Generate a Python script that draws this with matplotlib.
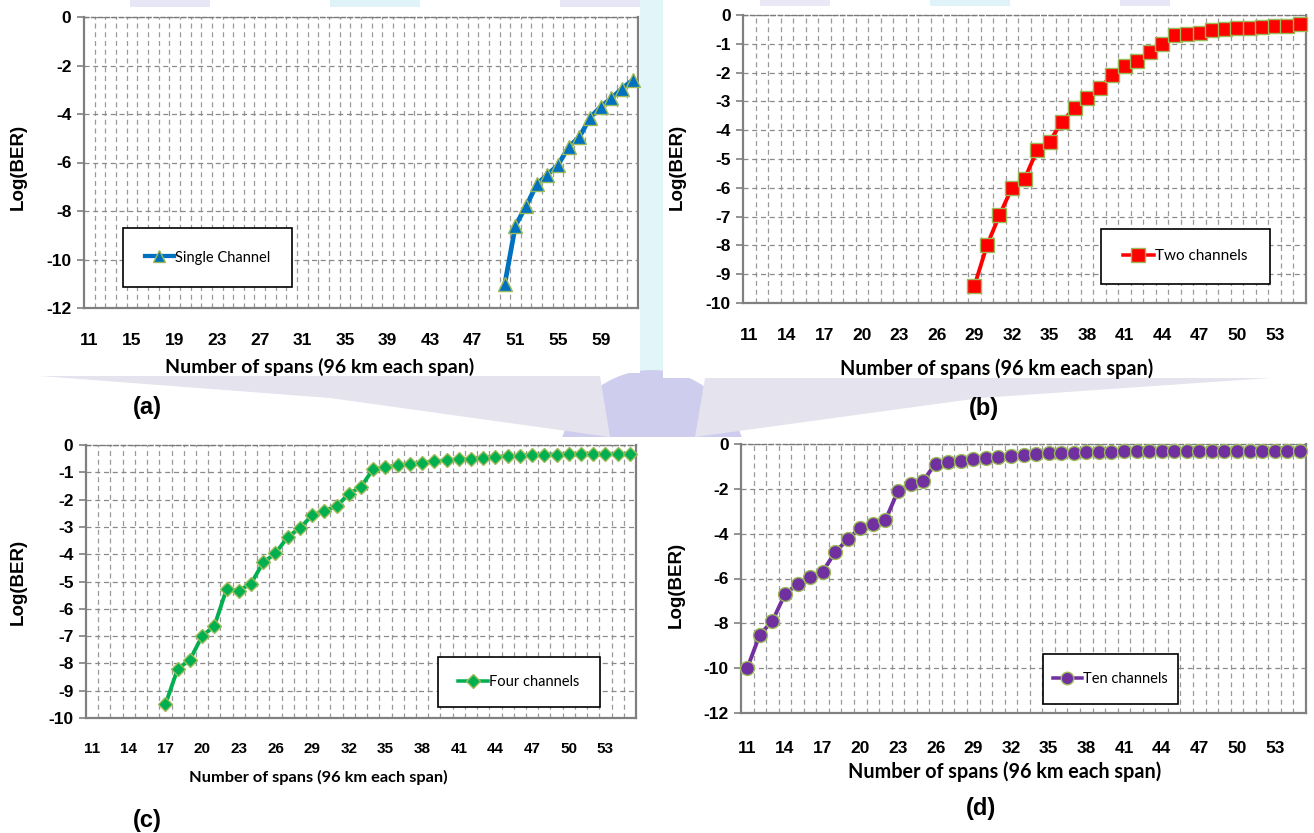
import numpy as np
import matplotlib
matplotlib.use("Agg")
import matplotlib.pyplot as plt
from matplotlib import font_manager
from matplotlib.patches import Rectangle, Ellipse, Polygon
from matplotlib.lines import Line2D

plt.rcParams["axes.unicode_minus"] = False

# ---------------- data ----------------
spans_a = list(range(11, 63))
spans_bcd = list(range(11, 56))

single_x = list(range(50, 63))
single_y = [-11.0, -8.6, -7.8, -6.9, -6.5, -6.1, -5.35, -4.95, -4.15, -3.7,
            -3.35, -2.95, -2.6]

two_x = list(range(29, 56))
two_y = [-9.4, -8.0, -6.95, -6.0, -5.7, -4.7, -4.4, -3.7, -3.23, -2.87,
         -2.55, -2.08, -1.77, -1.6, -1.27, -1.0, -0.7, -0.66, -0.62, -0.53,
         -0.5, -0.45, -0.45, -0.42, -0.39, -0.37, -0.32]

four_x = list(range(17, 56))
four_y = [-9.5, -8.2, -7.87, -7.0, -6.63, -5.28, -5.33, -5.08, -4.3, -3.97,
          -3.37, -3.04, -2.58, -2.4, -2.25, -1.79, -1.53, -0.88, -0.82, -0.74,
          -0.7, -0.65, -0.6, -0.56, -0.52, -0.5, -0.46, -0.44, -0.41, -0.39,
          -0.36, -0.35, -0.35, -0.34, -0.34, -0.34, -0.34, -0.34, -0.33]

ten_x = list(range(11, 56))
ten_y = [-10.0, -8.5, -7.9, -6.7, -6.25, -5.95, -5.7, -4.82, -4.26, -3.73,
         -3.55, -3.4, -2.1, -1.8, -1.65, -0.87, -0.8, -0.74, -0.68, -0.63,
         -0.57, -0.52, -0.47, -0.45, -0.42, -0.4, -0.38, -0.36, -0.35, -0.34,
         -0.33, -0.33, -0.33, -0.33, -0.33, -0.33, -0.33, -0.33, -0.33, -0.33,
         -0.33, -0.33, -0.33, -0.33, -0.33]

# ---------------- fonts ----------------
NUM_FONT = "Liberation Sans"
LBL_FONT = "Lato"

# ---------------- figure ----------------
W, H = 1314, 833
fig = plt.figure(figsize=(W / 100, H / 100), dpi=100)
fig.patch.set_facecolor("white")


def fx(x):
    return x / W


def fy(y):
    return 1 - y / H


# faint background emblem
bg = dict(transform=fig.transFigure, zorder=-3, linewidth=0)
fig.patches.append(Rectangle((fx(640), fy(376)), fx(23), 376 / H,
                             facecolor="#e2f5f9", **bg))
fig.patches.append(Ellipse((fx(652), fy(470)), 190 / W, 200 / H,
                           facecolor="#cfcdee", **bg))
fig.patches.append(Polygon([(fx(40), fy(376)), (fx(600), fy(376)),
                            (fx(610), fy(437)), (fx(330), fy(398))],
                           facecolor="#e4e3ee", **bg))
fig.patches.append(Polygon([(fx(1270), fy(378)), (fx(705), fy(378)),
                            (fx(695), fy(437)), (fx(980), fy(398))],
                           facecolor="#e4e3ee", **bg))
for x0, x1, c in [(130, 210, "#e6e6f6"), (330, 420, "#e0f3f8"),
                  (560, 640, "#e6e6f6"), (760, 830, "#eae8f6"),
                  (930, 1010, "#e0f3f8"), (1120, 1170, "#e6e6f6")]:
    fig.patches.append(Rectangle((fx(x0), fy(7)), (x1 - x0) / W, 7 / H,
                                 facecolor=c, **bg))

# white chart tiles
for l, t, r, b in [(0, 8, 640, 373), (663, 6, 1314, 378),
                   (0, 437, 1314, 833)]:
    fig.patches.append(Rectangle((fx(l), fy(b)), (r - l) / W, (b - t) / H,
                                 transform=fig.transFigure, zorder=-2,
                                 facecolor="white", linewidth=0))


def panel(box, cats, step_x, ylim, ystep, xs, ys, color, marker, msize,
          label, legbox, legfs, ytick_fs, xtick_fs, xlab_pos, xlab_fs,
          ylab_pos, letter, letter_pos, xtick_pad, lw):
    l, t, r, b = box
    ax = fig.add_axes([fx(l), fy(b), (r - l) / W, (b - t) / H])
    ax.set_facecolor("white")
    ax.set_xlim(cats[0] - 0.5, cats[-1] + 0.5)
    ax.set_ylim(*ylim)
    xt = cats[::step_x]
    ax.set_xticks(xt)
    ax.set_xticklabels([str(c) for c in xt], fontfamily=NUM_FONT,
                       fontweight="bold", fontsize=xtick_fs)
    ax.set_xticks(np.array(cats[:-1]) + 0.5, minor=True)
    yt = np.arange(ylim[0], ylim[1] + 0.01, ystep)
    ax.set_yticks(yt)
    ax.set_yticklabels([f"{int(v)}" for v in yt], fontfamily=NUM_FONT,
                       fontweight="bold", fontsize=ytick_fs)
    ax.grid(True, which="minor", axis="x", color="#9a9a9a",
            linestyle=(0, (4, 3)), linewidth=0.9)
    ax.grid(True, which="major", axis="y", color="#8a8a8a",
            linestyle=(0, (4, 3)), linewidth=0.9)
    ax.set_axisbelow(True)
    for s in ("left", "bottom", "right"):
        ax.spines[s].set_color("#808080")
        ax.spines[s].set_linewidth(1.6)
    ax.spines["top"].set_color("#7a7a7a")
    ax.spines["top"].set_linestyle((0, (3, 2)))
    ax.spines["top"].set_linewidth(1.0)
    ax.tick_params(axis="x", which="both", length=0, pad=xtick_pad)
    ax.tick_params(axis="y", which="major", length=5, width=1.2,
                   color="#808080", pad=4)
    ax.tick_params(axis="y", which="minor", length=0)

    ax.plot(xs, ys, color=color, linewidth=lw, marker=marker,
            markersize=msize, markerfacecolor=color,
            markeredgecolor="#9bbb59", markeredgewidth=1.0,
            clip_on=False, zorder=4)

    # legend box
    bl, bt, br, bb = legbox
    ax.add_artist(Rectangle((fx(bl), fy(bb)), (br - bl) / W, (bb - bt) / H,
                            transform=fig.transFigure, facecolor="white",
                            edgecolor="black", linewidth=1.2, zorder=6))
    handle = Line2D([], [], color=color, linewidth=lw * 0.9, marker=marker,
                    markersize=msize * 0.9, markerfacecolor=color,
                    markeredgecolor="#9bbb59", markeredgewidth=1.0)
    leg = ax.legend([handle], [label], loc="center",
                    bbox_to_anchor=(fx((bl + br) / 2), fy((bt + bb) / 2)),
                    bbox_transform=fig.transFigure, frameon=False,
                    handlelength=2.0, handletextpad=0.1,
                    prop={"family": LBL_FONT, "size": legfs})
    leg.set_zorder(7)

    fig.text(fx(xlab_pos[0]), fy(xlab_pos[1]),
             "Number of spans (96 km each span)", ha="center", va="center",
             fontfamily=LBL_FONT, fontweight="bold", fontsize=xlab_fs)
    fig.text(fx(ylab_pos[0]), fy(ylab_pos[1]), "Log(BER)", ha="center",
             va="center", rotation=90, fontfamily=NUM_FONT,
             fontweight="bold", fontsize=13.5)
    fig.text(fx(letter_pos[0]), fy(letter_pos[1]), letter, ha="center",
             va="center", fontfamily=NUM_FONT, fontweight="bold",
             fontsize=17)
    return ax


panel((84, 17, 638, 308), spans_a, 4, (-12, 0), 2, single_x, single_y,
      "#0070c0", "^", 9.5, "Single Channel", (123, 228, 292, 287), 10.5,
      12.5, 12.5, (320, 367), 14, (18, 167), "(a)", (147, 407), 18, 3.4)

panel((743, 15, 1306, 303), spans_bcd, 3, (-10, 0), 1, two_x, two_y,
      "#ff0000", "s", 10.5, "Two channels", (1101, 229, 1270, 284), 11,
      12.5, 12.5, (997, 369), 14.2, (677, 167), "(b)", (984, 408), 18, 2.8)

panel((86, 445, 636, 718), spans_bcd, 3, (-10, 0), 1, four_x, four_y,
      "#00b050", "D", 7.5, "Four channels", (438, 657, 600, 707), 10.5,
      12.5, 11, (318, 777), 11.8, (18, 582), "(c)", (147, 820), 17, 2.8)

panel((741, 444, 1306, 713), spans_bcd, 3, (-12, 0), 2, ten_x, ten_y,
      "#7030a0", "o", 10, "Ten channels", (1043, 654, 1178, 704), 10.5,
      12.5, 12.5, (1005, 772), 14.2, (676, 585), "(d)", (981, 808), 20, 2.8)

fig.savefig("out.png", dpi=100, facecolor=fig.get_facecolor())
